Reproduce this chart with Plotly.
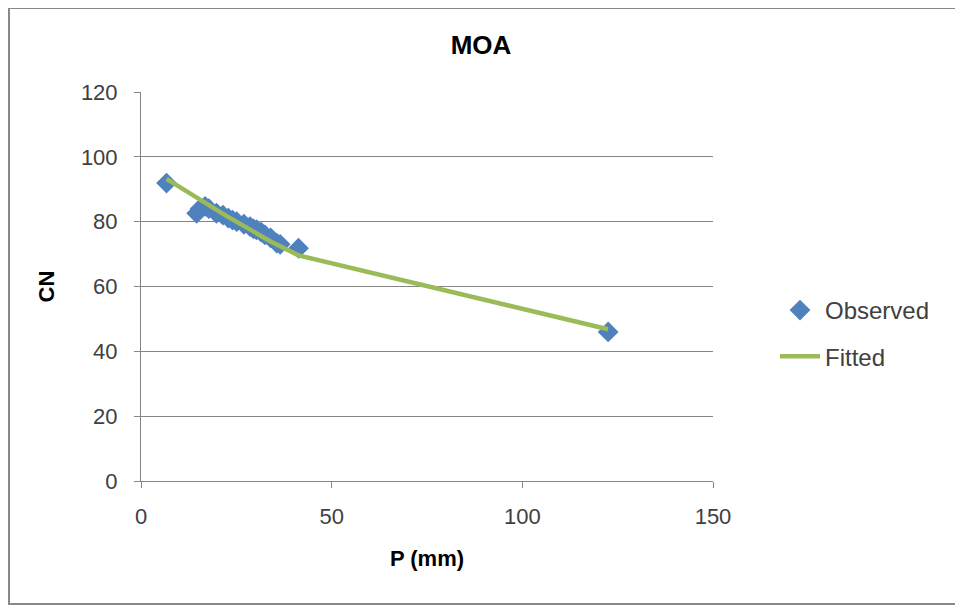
import plotly.graph_objects as go

# Observed data
obs_p = [6.7, 14.6, 15.5, 16.8, 17.8, 19.8, 21.5, 22.9, 24.0, 25.1, 27.0, 28.6, 29.5, 30.3,
         31.5, 32.5, 34.0, 35.6, 36.5, 41.3, 122.5]
obs_cn = [91.9, 82.6, 84.0, 84.7, 84.0, 82.6, 82.0, 81.1, 80.5, 80.0, 79.2, 78.5, 77.8, 77.5,
          76.8, 75.9, 75.0, 73.4, 73.0, 71.8, 46.0]
# Fitted curve
fit_cn = [93.2, 87.3, 86.6, 85.7, 85.0, 83.6, 82.4, 81.4, 80.7, 79.9, 78.6, 77.5, 76.9, 76.4,
          75.6, 74.9, 73.9, 72.9, 72.3, 69.6, 46.8]

x_ticks = [0, 50, 100, 150]
y_ticks = [0, 20, 40, 60, 80, 100, 120]

FONT = "Liberation Sans"
OFF = 8  # page body margin
W, H = 963 - OFF, 608 - OFF
L, T = 141 - OFF, 92 - OFF
pw, ph = 572, 389
R, B = W - L - pw, H - T - ph

fig = go.Figure()
fig.add_trace(go.Scatter(
    x=obs_p, y=obs_cn, mode="markers", name="Observed", legendgroup="a",
    marker=dict(symbol="diamond", size=16, color="#4F81BD"),
))
fig.add_trace(go.Scatter(
    x=obs_p, y=fit_cn, mode="lines", name="Fitted", legendgroup="b",
    line=dict(color="#9BBB59", width=4.5),
))

fig.update_layout(
    width=W, height=H,
    margin=dict(l=L, r=R, t=T, b=B),
    paper_bgcolor="white", plot_bgcolor="white",
    font=dict(family=FONT, size=22, color="#404040"),
    title=dict(text="<b>MOA</b>", x=(481 - 141) / pw, xref="paper", xanchor="center",
               y=1 - (45 - OFF) / H, yanchor="middle",
               font=dict(family=FONT, size=26, color="black")),
    xaxis=dict(range=[0, 150], tickvals=x_ticks, showgrid=False,
               showline=True, linecolor="#868686", linewidth=1,
               ticks="outside", ticklen=6, tickcolor="#868686",
               ticklabelstandoff=10,
               title=dict(text="<b>P (mm)</b>", font=dict(size=22, color="black"), standoff=22),
               zeroline=False),
    yaxis=dict(range=[0, 120], tickvals=y_ticks, showgrid=True, gridcolor="#868686",
               gridwidth=1, showline=True, linecolor="#868686", linewidth=1,
               ticks="outside", ticklen=6, tickcolor="#868686",
               ticklabelstandoff=12,
               title=dict(text="<b>CN</b>", font=dict(size=22, color="black"), standoff=20),
               zeroline=False),
    legend=dict(x=(775 - 141) / pw, y=(481 - 288) / ph, xanchor="left", yanchor="top",
                font=dict(size=24, color="#404040"), tracegroupgap=12, itemwidth=40,
                bgcolor="rgba(0,0,0,0)"),
    showlegend=True,
)

fig.add_shape(type="rect", xref="paper", yref="paper",
              x0=(-L + 1) / pw, x1=(958 - 141) / pw,
              y0=(481 - 604) / ph, y1=(481 - 8) / ph,
              line=dict(color="#888888", width=2), layer="below")

fig.write_html("out.html")
